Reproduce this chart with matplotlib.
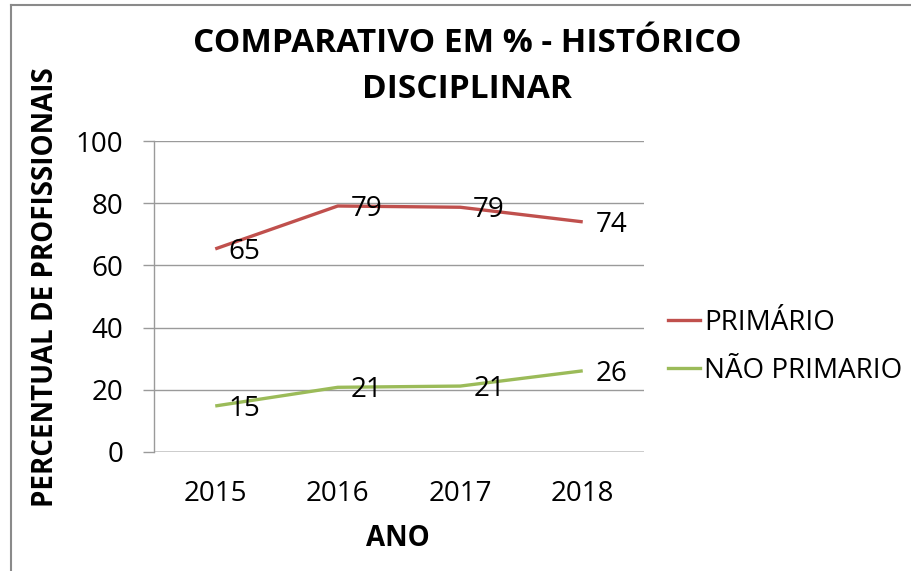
"""Line chart: comparativo em % - histórico disciplinar."""
import matplotlib
matplotlib.use('Agg')
import matplotlib.pyplot as plt
from matplotlib.lines import Line2D

# --- Data ---
anos = ['2015', '2016', '2017', '2018']
primario = [65.3, 79.1, 78.7, 74.0]
nao_primario = [14.8, 20.8, 21.2, 26.1]
rotulos_primario = ['65', '79', '79', '74']
rotulos_nao_primario = ['15', '21', '21', '26']
y_ticks = [0, 20, 40, 60, 80, 100]

RED = '#C0504D'
GREEN = '#9BBB59'
FONT = 'Open Sans'

plt.rcParams['font.family'] = [FONT, 'DejaVu Sans']

W, H = 911, 571
fig = plt.figure(figsize=(W / 100, H / 100), dpi=100, facecolor='white')

# plot area in pixels: x 154..644, y 141..452
ax = fig.add_axes([154 / W, 1 - 452 / H, (644 - 154) / W, (452 - 141) / H])

x = list(range(len(anos)))
ax.plot(x, primario, color=RED, linewidth=2.4, solid_capstyle='butt', zorder=3)
ax.plot(x, nao_primario, color=GREEN, linewidth=2.4, solid_capstyle='butt', zorder=3)

for xi, v, s in zip(x, primario, rotulos_primario):
    ax.annotate(s, (xi, v), xytext=(13, -3), textcoords='offset pixels',
                ha='left', va='center', fontsize=20, zorder=4)
for xi, v, s in zip(x, nao_primario, rotulos_nao_primario):
    ax.annotate(s, (xi, v), xytext=(13, -3), textcoords='offset pixels',
                ha='left', va='center', fontsize=20, zorder=4)

ax.set_xlim(-0.5, len(anos) - 0.5)
ax.set_ylim(0, 100)
ax.set_yticks(y_ticks)
ax.set_xticks(x)
ax.set_xticklabels(anos)

ax.grid(axis='y', color='#9A9A9A', linewidth=1.0, zorder=0)
ax.set_axisbelow(True)
for side in ['top', 'right', 'bottom']:
    ax.spines[side].set_visible(False)
ax.spines['left'].set_color('#9A9A9A')
ax.spines['left'].set_linewidth(1.0)
ax.axhline(0, color='#C8C8C8', linewidth=1.2, zorder=1)

ax.tick_params(axis='y', length=8, width=1.0, color='#9A9A9A', pad=14,
               labelsize=20, labelcolor='black')
ax.tick_params(axis='x', length=0, pad=20, labelsize=20, labelcolor='black')

# axis titles
fig.text(398 / W, 1 - 538 / H, 'ANO', ha='center', va='center',
         fontsize=20, fontweight='bold')
fig.text(46 / W, 1 - 287 / H, 'PERCENTUAL DE PROFISSIONAIS', ha='center',
         va='center', rotation=90, fontsize=20, fontweight='bold')

# chart title
fig.text(467 / W, 1 - 44 / H, 'COMPARATIVO EM % - HISTÓRICO', ha='center',
         va='center', fontsize=24, fontweight='bold')
fig.text(467 / W, 1 - 89 / H, 'DISCIPLINAR', ha='center', va='center',
         fontsize=24, fontweight='bold')

# legend
handles = [Line2D([], [], color=RED, linewidth=2.4),
           Line2D([], [], color=GREEN, linewidth=2.4)]
fig.legend(handles, ['PRIMÁRIO', 'NÃO PRIMARIO'], loc='center left',
           bbox_to_anchor=(668 / W, 1 - 347 / H), frameon=False,
           borderaxespad=0, borderpad=0,
           fontsize=20, handlelength=1.15, handletextpad=0.15, labelspacing=0.72)

# outer frame (only top and left edges visible in the reference)
fig.add_artist(Line2D([10.5 / W, 10.5 / W], [0, 1 - 5 / H], color='#8A8A8A',
                      linewidth=1.5, transform=fig.transFigure))
fig.add_artist(Line2D([10.5 / W, 1], [1 - 5 / H, 1 - 5 / H], color='#8A8A8A',
                      linewidth=1.5, transform=fig.transFigure))

fig.savefig('out.png', dpi=100, facecolor='white')
